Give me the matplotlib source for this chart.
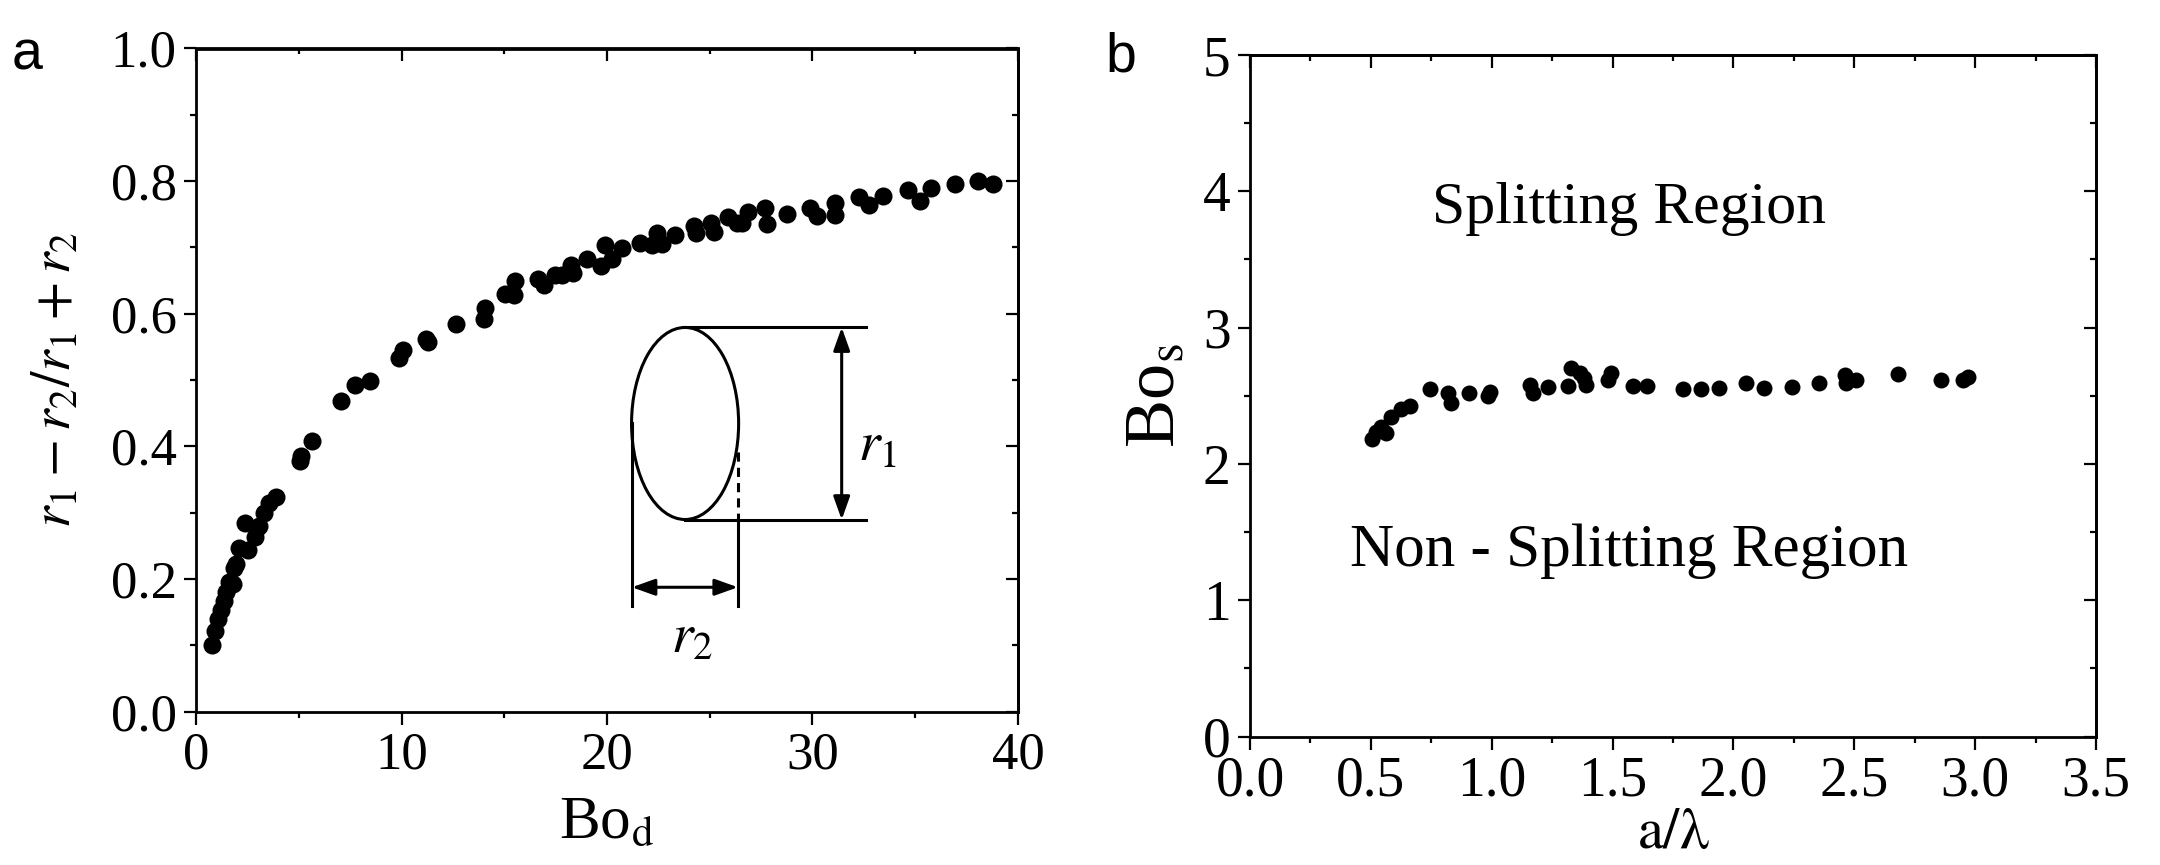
import numpy as np
import matplotlib
matplotlib.use("Agg")
import matplotlib.pyplot as plt
from matplotlib.patches import Ellipse
from matplotlib.ticker import MultipleLocator, FormatStrFormatter

plt.rcParams['font.family'] = ['Liberation Serif', 'DejaVu Serif']
plt.rcParams['mathtext.fontset'] = 'stix'

# panel a: deformation vs Bo_d
bo_d = [0.78, 0.91, 1.08, 1.22, 1.34, 1.48, 1.62, 1.79, 1.83, 1.95, 2.09, 2.52, 2.40, 2.87,
        2.97, 3.08, 3.30, 3.57, 3.91, 5.04, 5.13, 5.65, 7.04, 7.74, 8.48, 9.86, 10.08,
        11.21, 11.29, 12.65, 14.0, 14.08, 15.04, 15.47, 15.52, 16.64, 16.95, 17.47,
        17.82, 18.25, 18.34, 19.03, 19.73, 19.9, 20.25, 20.74, 21.59, 22.2, 22.42,
        22.66, 23.29, 24.25, 24.33, 25.08, 25.2, 25.9, 26.33, 26.55, 26.88, 27.69,
        27.77, 28.77, 29.88, 30.23, 31.1, 31.08, 32.28, 32.77, 33.41, 34.66, 35.23,
        35.75, 36.93, 38.07, 38.8]
deform = [0.101, 0.121, 0.140, 0.153, 0.167, 0.181, 0.195, 0.193, 0.2166, 0.222, 0.247,
          0.244, 0.285, 0.263, 0.277, 0.280, 0.299, 0.315, 0.323, 0.378, 0.386, 0.408,
          0.469, 0.493, 0.499, 0.534, 0.545, 0.562, 0.557, 0.585, 0.592, 0.608, 0.630,
          0.628, 0.650, 0.652, 0.643, 0.658, 0.658, 0.673, 0.661, 0.683, 0.672, 0.704,
          0.683, 0.699, 0.707, 0.703, 0.722, 0.705, 0.718, 0.732, 0.722, 0.737, 0.724,
          0.746, 0.737, 0.737, 0.754, 0.759, 0.735, 0.751, 0.760, 0.747, 0.767, 0.749,
          0.776, 0.764, 0.778, 0.786, 0.770, 0.790, 0.795, 0.800, 0.795]

# panel b: critical Bo_s vs a/lambda
a_lam = [0.505, 0.523, 0.54, 0.564, 0.584, 0.625, 0.662, 0.745, 0.819, 0.83, 0.905, 0.985,
         0.994, 1.16, 1.169, 1.234, 1.317, 1.327, 1.364, 1.382, 1.391, 1.48, 1.492, 1.585,
         1.641, 1.792, 1.866, 1.94, 2.053, 2.126, 2.241, 2.352, 2.462, 2.466, 2.508,
         2.68, 2.857, 2.951, 2.972]
bo_s = [2.18, 2.236, 2.273, 2.23, 2.346, 2.40, 2.425, 2.547, 2.523, 2.449, 2.523, 2.498,
        2.53, 2.579, 2.523, 2.562, 2.572, 2.701, 2.664, 2.628, 2.579, 2.616, 2.664, 2.572,
        2.572, 2.552, 2.547, 2.559, 2.596, 2.555, 2.567, 2.596, 2.652, 2.591, 2.616,
        2.657, 2.616, 2.616, 2.636]

W, H = 2160, 865
fig = plt.figure(figsize=(W / 100, H / 100), dpi=100)

ax1 = fig.add_axes([196 / W, 1 - 711.6 / H, 822 / W, 663.1 / H])
ax2 = fig.add_axes([1250 / W, 1 - 736.5 / H, 846 / W, 681.5 / H])


def style(ax, xmaj, xmin, ymaj, ymin, fs):
    for s in ax.spines.values():
        s.set_linewidth(2)
    ax.xaxis.set_major_locator(MultipleLocator(xmaj))
    ax.xaxis.set_minor_locator(MultipleLocator(xmin))
    ax.yaxis.set_major_locator(MultipleLocator(ymaj))
    ax.yaxis.set_minor_locator(MultipleLocator(ymin))
    ax.tick_params(which='major', direction='out', length=9, width=1.6, labelsize=fs, pad=5)
    ax.tick_params(which='minor', direction='out', length=4.5, width=1.6)
    # inward ticks on top and right
    sx = ax.secondary_xaxis('top')
    sx.xaxis.set_major_locator(MultipleLocator(xmaj))
    sx.xaxis.set_minor_locator(MultipleLocator(xmin))
    sx.tick_params(which='major', direction='in', length=9, width=1.6, labeltop=False)
    sx.tick_params(which='minor', direction='in', length=4.5, width=1.6)
    sx.spines['top'].set_linewidth(2)
    sy = ax.secondary_yaxis('right')
    sy.yaxis.set_major_locator(MultipleLocator(ymaj))
    sy.yaxis.set_minor_locator(MultipleLocator(ymin))
    sy.tick_params(which='major', direction='in', length=9, width=1.6, labelright=False)
    sy.tick_params(which='minor', direction='in', length=4.5, width=1.6)
    sy.spines['right'].set_linewidth(2)


# ---- panel a
ax1.plot(bo_d, deform, 'o', color='black', ms=13, mec='none')
ax1.set_xlim(0, 40)
ax1.set_ylim(0, 1.0)
style(ax1, 10, 5, 0.2, 0.1, 38)
ax1.yaxis.set_major_formatter(FormatStrFormatter('%.1f'))
ax1.set_xlabel(r'Bo$_\mathrm{d}$', fontsize=44, labelpad=12)
ax1.set_ylabel(r'$r_1 - r_2/r_1 + r_2$', fontsize=40, labelpad=20)

# inset sketch of the deformed droplet
lw = 2.2
ax1.add_patch(Ellipse((23.8, 0.4345), 5.21, 0.2896, fill=False, lw=lw, color='black'))
ax1.plot([23.8, 32.6], [0.5794, 0.5794], color='black', lw=lw)
ax1.plot([23.8, 32.6], [0.2894, 0.2894], color='black', lw=lw)
ax1.plot([21.21, 21.21], [0.4345, 0.1593], color='black', lw=lw)
ax1.plot([26.37, 26.37], [0.392, 0.2894], color='black', lw=lw, ls=(0, (3, 2)))
ax1.plot([26.37, 26.37], [0.2894, 0.1593], color='black', lw=lw)
arrow = dict(arrowstyle='<|-|>,head_length=0.7,head_width=0.25', color='black',
             lw=lw, shrinkA=0, shrinkB=0, mutation_scale=20)
ax1.annotate('', xy=(31.42, 0.5794), xytext=(31.42, 0.2894), arrowprops=arrow)
ax1.annotate('', xy=(21.21, 0.1875), xytext=(26.37, 0.1875), arrowprops=arrow)
ax1.text(32.2, 0.40, r'$r_1$', fontsize=40, ha='left', va='center')
ax1.text(24.16, 0.11, r'$r_2$', fontsize=40, ha='center', va='center')

# ---- panel b
ax2.plot(a_lam, bo_s, 'o', color='black', ms=11.5, mec='none')
ax2.set_xlim(0, 3.5)
ax2.set_ylim(0, 5)
style(ax2, 0.5, 0.25, 1, 0.5, 40)
ax2.xaxis.set_major_formatter(FormatStrFormatter('%.1f'))
ax2.set_xlabel(r'$\mathrm{a/\lambda}$', fontsize=42, labelpad=0)
ax2.set_ylabel(r'Bo$_\mathrm{s}$', fontsize=52, labelpad=10)
ax2.text(1.57, 3.87, 'Splitting Region', fontsize=43, ha='center', va='center')
ax2.text(1.57, 1.36, 'Non - Splitting Region', fontsize=44, ha='center', va='center')

# panel letters
fig.text(12 / W, 1 - 55 / H, 'a', fontsize=40, family='Liberation Sans', va='center')
fig.text(1105 / W, 1 - 58 / H, 'b', fontsize=40, family='Liberation Sans', va='center')

fig.savefig('out.png', dpi=100)
